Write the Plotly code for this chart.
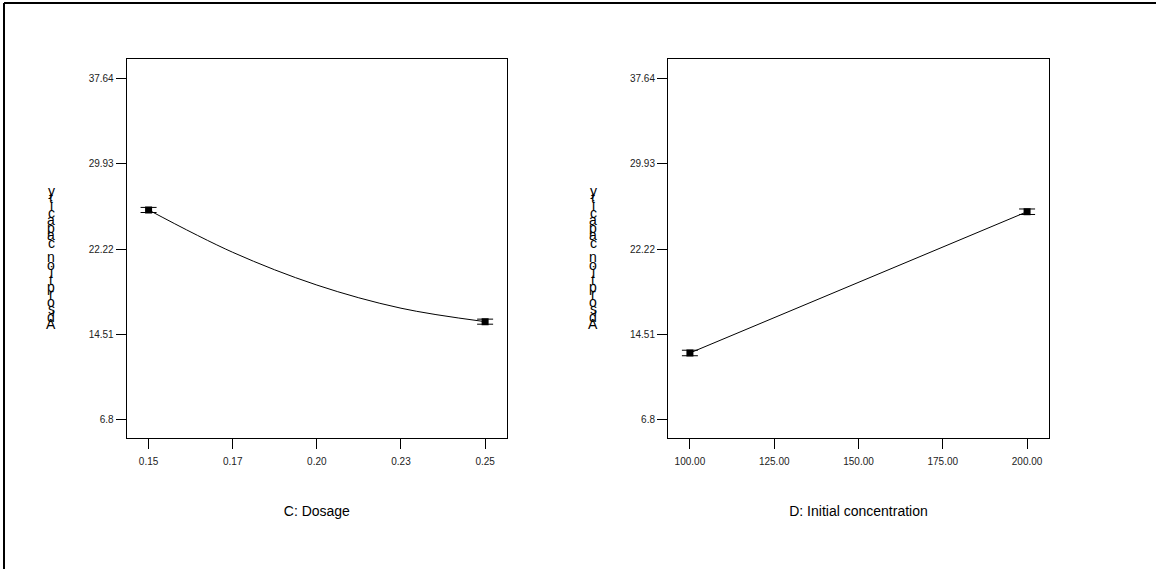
import plotly.graph_objects as go

W, H = 1156, 569

# Data
dosage_x = [0.15, 0.175, 0.20, 0.225, 0.25]
dosage_y = [25.76, 21.92, 18.95, 16.85, 15.63]
dosage_pts_x = [0.15, 0.25]
dosage_pts_y = [25.76, 15.63]
dosage_err = [0.23, 0.23]

conc_x = [100, 200]
conc_y = [12.79, 25.60]
conc_err = [0.25, 0.25]

dosage_ticks = [0.15, 0.175, 0.20, 0.225, 0.25]
dosage_ticktext = ["0.15", "0.17", "0.20", "0.23", "0.25"]
conc_ticks = [100, 125, 150, 175, 200]
conc_ticktext = ["100.00", "125.00", "150.00", "175.00", "200.00"]
y_ticks = [6.8, 14.51, 22.22, 29.93, 37.64]
y_ticktext = ["6.8", "14.51", "22.22", "29.93", "37.64"]
y_label = "Adsorption capacity"

fig = go.Figure()

fig.add_trace(go.Scatter(x=dosage_x, y=dosage_y, mode="lines", line=dict(color="black", width=1, shape="spline"),
                         xaxis="x", yaxis="y", hoverinfo="skip"))
fig.add_trace(go.Scatter(x=dosage_pts_x, y=dosage_pts_y, mode="markers",
                         marker=dict(symbol="square", size=7, color="black"),
                         error_y=dict(type="data", array=dosage_err, color="black", thickness=1, width=8),
                         xaxis="x", yaxis="y"))
fig.add_trace(go.Scatter(x=conc_x, y=conc_y, mode="lines", line=dict(color="black", width=1),
                         xaxis="x2", yaxis="y2", hoverinfo="skip"))
fig.add_trace(go.Scatter(x=conc_x, y=conc_y, mode="markers",
                         marker=dict(symbol="square", size=7, color="black"),
                         error_y=dict(type="data", array=conc_err, color="black", thickness=1, width=8),
                         xaxis="x2", yaxis="y2"))

ydom = [1 - 438 / H, 1 - 59 / H]
tickfont = dict(family="Liberation Sans, Arial", size=10, color="#222")
titlefont = dict(family="Liberation Sans, Arial", size=14, color="black")

common_axis = dict(showgrid=False, zeroline=False, showline=True, linecolor="black", linewidth=1,
                   mirror=True, ticks="outside", ticklen=10, tickcolor="black", tickwidth=1,
                   tickfont=tickfont)

yrange = [5.08, 39.45]
fig.update_layout(
    width=W, height=H,
    margin=dict(l=0, r=0, t=0, b=0),
    paper_bgcolor="white", plot_bgcolor="white",
    showlegend=False,
    xaxis=dict(domain=[126.7 / W, 507 / W], range=[0.1435, 0.2565], tickvals=dosage_ticks,
               ticktext=dosage_ticktext, anchor="y", ticklabelstandoff=4,
               title=dict(text="C: Dosage", font=titlefont, standoff=40), **common_axis),
    yaxis=dict(domain=ydom, range=yrange, tickvals=y_ticks, ticktext=y_ticktext, anchor="x", **common_axis),
    xaxis2=dict(domain=[668 / W, 1049 / W], range=[93.5, 206.5], tickvals=conc_ticks,
                ticktext=conc_ticktext, anchor="y2", ticklabelstandoff=4,
                title=dict(text="D: Initial concentration", font=titlefont, standoff=40), **common_axis),
    yaxis2=dict(domain=ydom, range=yrange, tickvals=y_ticks, ticktext=y_ticktext, anchor="x2", **common_axis),
)

# Page frame lines (top and left)
fig.add_shape(type="line", xref="paper", yref="paper", x0=4 / W, x1=1, y0=1 - 3 / H, y1=1 - 3 / H,
              line=dict(color="black", width=2))
fig.add_shape(type="line", xref="paper", yref="paper", x0=4 / W, x1=4 / W, y0=0, y1=1 - 3 / H,
              line=dict(color="black", width=2))

# Stacked y-axis labels (characters drawn upright, bottom to top)
for xc in (51, 593):
    for i, ch in enumerate(y_label):
        if ch == " ":
            continue
        ypx = 324 - i * 7.4
        fig.add_annotation(x=xc / W, y=1 - ypx / H, xref="paper", yref="paper", text=ch, showarrow=False,
                           font=dict(family="Liberation Sans, Arial", size=14, color="black"),
                           xanchor="center", yanchor="middle")

fig.write_html("out.html")
